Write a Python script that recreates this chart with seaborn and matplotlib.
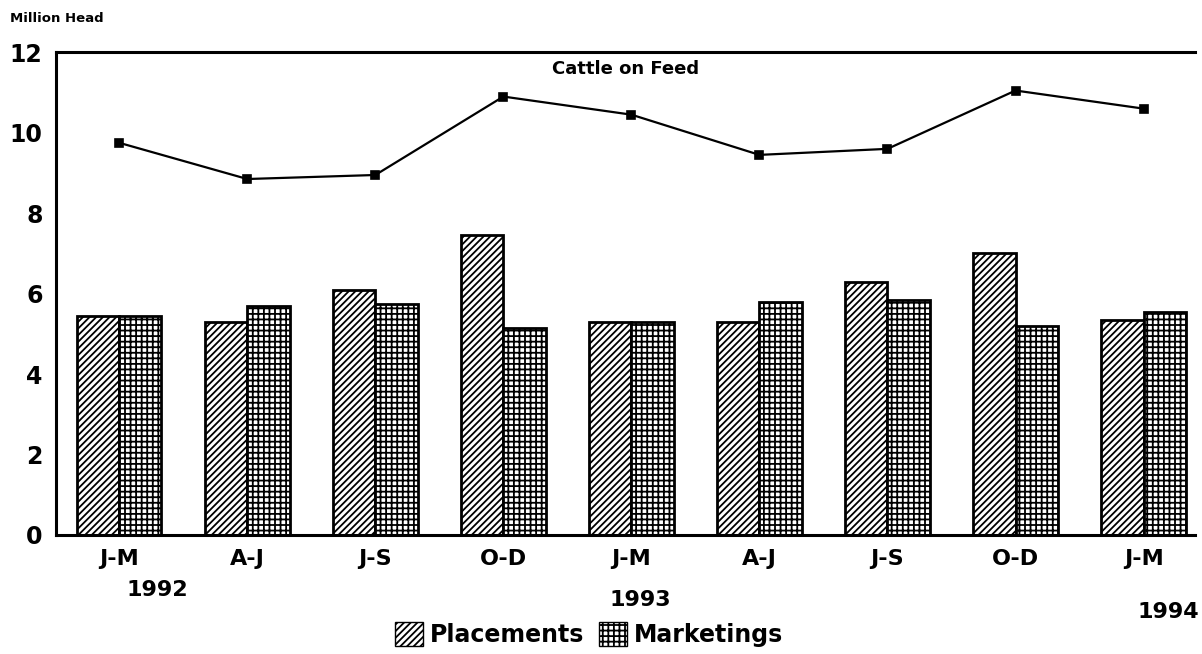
import numpy as np
import pandas as pd
import matplotlib
matplotlib.use('Agg')
import matplotlib.pyplot as plt
from matplotlib.patches import Patch
import seaborn as sns

# ------------------------------------------------------------
# data (million head)
# ------------------------------------------------------------
periods = ['J-M 92', 'A-J 92', 'J-S 92', 'O-D 92', 'J-M 93',
           'A-J 93', 'J-S 93', 'O-D 93', 'J-M 94']
tick_labels = ['J-M', 'A-J', 'J-S', 'O-D', 'J-M', 'A-J', 'J-S', 'O-D', 'J-M']
placements = [5.45, 5.3, 6.1, 7.45, 5.3, 5.3, 6.3, 7.0, 5.35]
marketings = [5.45, 5.7, 5.75, 5.15, 5.3, 5.8, 5.85, 5.2, 5.55]
on_feed = [9.75, 8.85, 8.95, 10.9, 10.45, 9.45, 9.6, 11.05, 10.6]
years = ['1992', '1993', '1994']

sns.set_style('white')
plt.rcParams['font.family'] = ['DejaVu Sans']
plt.rcParams['font.weight'] = 'bold'
plt.rcParams['text.color'] = 'black'
plt.rcParams['xtick.color'] = 'black'
plt.rcParams['ytick.color'] = 'black'
plt.rcParams['hatch.linewidth'] = 1.3

df = pd.DataFrame({
    'period': periods * 2,
    'value': placements + marketings,
    'series': ['Placements'] * len(periods) + ['Marketings'] * len(periods),
})

fig = plt.figure(figsize=(12.02, 6.54), dpi=100)
ax = fig.add_axes([0.047, 0.182, 0.947, 0.738])

sns.barplot(data=df, x='period', y='value', hue='series', order=periods,
            hue_order=['Placements', 'Marketings'], width=0.66,
            palette=['white', 'white'], edgecolor='black', linewidth=2,
            legend=False, ax=ax)

hatches = {'Placements': '/////', 'Marketings': '+++'}
n = len(periods)
for i, bar in enumerate(ax.patches[:2 * n]):
    bar.set_hatch(hatches['Placements'] if i < n else hatches['Marketings'])

sns.pointplot(x=periods, y=on_feed, order=periods, color='black',
              markers='s', markersize=6, linewidth=1.6, ax=ax)

ax.set_ylim(0, 12)
ax.set_xlim(-0.49, 8.4)
ax.set_yticks([0, 2, 4, 6, 8, 10, 12])
ax.set_yticklabels(['0', '2', '4', '6', '8', '10', '12'], fontsize=17, fontweight='bold')
ax.set_xticks(range(n))
ax.set_xticklabels(tick_labels, fontsize=16, fontweight='bold')
ax.tick_params(axis='y', direction='in', length=20, width=2, pad=10)
ax.tick_params(axis='x', length=0, pad=10)
ax.set_xlabel('')
ax.set_ylabel('')

for side in ['left', 'bottom', 'top']:
    ax.spines[side].set_linewidth(2.2)
    ax.spines[side].set_color('black')
ax.spines['right'].set_visible(False)

# year labels under the month ranges
ax.text(0.3, -0.115, years[0], transform=ax.get_xaxis_transform(),
        ha='center', va='center', fontsize=16, fontweight='bold')
ax.text(4.07, -0.135, years[1], transform=ax.get_xaxis_transform(),
        ha='center', va='center', fontsize=16, fontweight='bold')
ax.text(8.19, -0.16, years[2], transform=ax.get_xaxis_transform(),
        ha='center', va='center', fontsize=16, fontweight='bold')

ax.text(0.5, 0.965, 'Cattle on Feed', transform=ax.transAxes,
        ha='center', va='center', fontsize=13, fontweight='bold')
fig.text(0.008, 0.972, 'Million Head', ha='left', va='center',
         fontsize=9.5, fontweight='bold')

handles = [Patch(facecolor='white', edgecolor='black', hatch='/////', label='Placements'),
           Patch(facecolor='white', edgecolor='black', hatch='+++', label='Marketings')]
fig.legend(handles=handles, loc='center', bbox_to_anchor=(0.49, 0.03), ncol=2,
           frameon=False, prop={'size': 17, 'weight': 'bold'},
           handlelength=1.2, handleheight=1.2, handletextpad=0.3, columnspacing=0.6)

fig.savefig('out.png', dpi=100)
